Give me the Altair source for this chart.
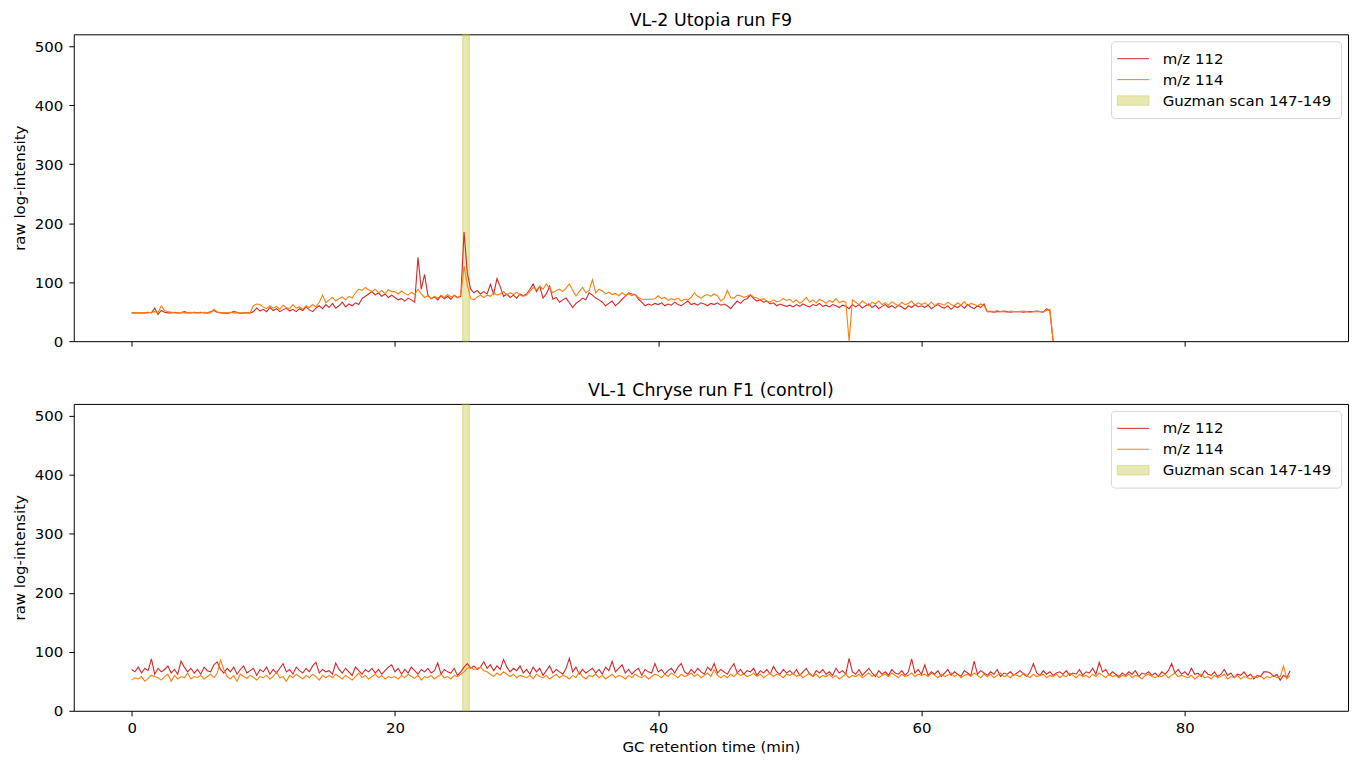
import altair as alt
import numpy as np
import pandas as pd

STEP_MIN = 0.25  # sampling interval of the traces (min)

SERIES = ["m/z 112", "m/z 114", "Guzman scan 147-149"]
COLORS = ["#d62728", "#ff7f0e", "rgba(188,189,34,0.35)"]
BAND_EDGE = "rgba(188,189,34,0.45)"

# VL-2 Utopia, run F9: 0 - 70 min
UTOPIA_112 = [
    48, 48, 48, 48, 48, 49, 48, 56, 45, 52, 49, 48, 48, 49, 48, 48, 50, 48, 48, 49,
    48, 49, 48, 48, 50, 52, 49, 48, 48, 47, 48, 50, 49, 47, 48, 48, 48, 50, 56, 51,
    54, 50, 57, 52, 55, 50, 53, 56, 51, 54, 50, 55, 52, 58, 53, 50, 56, 60, 55, 62,
    57, 64, 56, 60, 66, 58, 63, 60, 65, 62, 72, 76, 80, 84, 78, 82, 76, 80, 74, 78,
    74, 70, 72, 68, 73, 70, 66, 142, 88, 113, 78, 72, 75, 70, 77, 72, 76, 71, 78, 74,
    76, 185, 115, 88, 82, 86, 80, 84, 80, 96, 80, 106, 92, 76, 80, 74, 78, 73, 80, 77,
    80, 88, 97, 84, 93, 73, 80, 93, 71, 74, 66, 70, 73, 65, 57, 64, 68, 73, 70, 82,
    78, 73, 70, 66, 60, 64, 68, 60, 65, 71, 76, 82, 80, 79, 71, 66, 60, 63, 61, 64,
    62, 65, 60, 63, 61, 66, 62, 60, 64, 68, 62, 64, 61, 65, 63, 60, 64, 62, 65, 61,
    63, 60, 55, 62, 68, 64, 70, 72, 78, 72, 68, 70, 66, 68, 63, 65, 60, 63, 61, 59,
    61, 58, 62, 59, 63, 60, 58, 62, 60, 64, 59, 61, 58, 62, 60, 57, 61, 59, 55, 62,
    58, 62, 56, 60, 63, 57, 61, 55, 59, 62, 57, 60, 56, 61, 58, 54, 60, 57, 62, 58,
    60, 57, 61, 55, 59, 62, 58, 56, 60, 54, 59, 57, 61, 56, 62, 58, 55, 60, 57, 63,
    50, 50, 49, 50, 50, 51, 50, 49, 50, 50, 50, 49, 50, 50, 50, 51, 50, 49, 55, 51,
    0,
]
UTOPIA_114 = [
    48, 48, 48, 48, 48, 48, 49, 50, 48, 60, 52, 50, 49, 48, 48, 49, 48, 48, 49, 48,
    48, 48, 49, 48, 48, 54, 50, 48, 48, 48, 49, 48, 48, 48, 48, 48, 48, 60, 63, 62,
    58, 55, 60, 56, 59, 54, 61, 57, 55, 62, 56, 58, 54, 60, 57, 62, 58, 66, 78, 65,
    70, 74, 68, 72, 75, 70, 76, 73, 82, 88, 86, 91, 87, 84, 88, 82, 86, 80, 87, 84,
    84, 80, 85, 81, 78, 83, 79, 88, 80, 74, 77, 72, 76, 73, 78, 74, 79, 75, 77, 73,
    78, 127, 95, 72, 70, 75, 78, 74, 78, 76, 82, 78, 80, 84, 78, 82, 79, 83, 78, 76,
    78, 84, 91, 87, 93, 88, 97, 90, 82, 86, 88, 84, 90, 97, 86, 77, 84, 91, 82, 86,
    104, 82, 88, 85, 80, 83, 79, 81, 77, 82, 78, 80, 77, 79, 74, 71, 71, 71, 71, 72,
    77, 72, 74, 69, 72, 70, 73, 68, 71, 70, 74, 82, 76, 73, 77, 79, 76, 80, 77, 68,
    72, 86, 74, 73, 78, 77, 74, 76, 79, 75, 73, 70, 72, 68, 66, 70, 67, 68, 72, 69,
    71, 66, 70, 64, 68, 74, 66, 70, 65, 71, 68, 64, 69, 66, 72, 65, 68, 66, 0, 70,
    66, 62, 68, 64, 60, 66, 63, 68, 62, 65, 61, 67, 63, 60, 66, 62, 64, 68, 61, 65,
    62, 65, 61, 66, 60, 64, 63, 61, 66, 62, 60, 65, 61, 67, 60, 64, 62, 60, 63, 60,
    50, 51, 50, 52, 50, 50, 49, 51, 50, 50, 50, 51, 50, 49, 50, 50, 50, 50, 52, 54,
    0,
]

# VL-1 Chryse, run F1 (control): 0 - 88 min
CHRYSE_112 = [
    70, 66, 74, 64, 72, 68, 88, 62, 72, 66, 70, 76, 64, 70, 62, 84, 74, 66, 72, 64,
    70, 62, 74, 68, 66, 78, 83, 70, 64, 72, 66, 74, 62, 70, 76, 64, 68, 72, 60, 70,
    66, 74, 62, 70, 64, 72, 80, 66, 70, 62, 74, 68, 64, 72, 66, 76, 82, 64, 70, 66,
    68, 62, 81, 70, 64, 72, 66, 60, 74, 68, 62, 70, 66, 72, 64, 70, 62, 68, 74, 78,
    66, 72, 62, 70, 64, 74, 68, 62, 70, 66, 72, 64, 68, 81, 62, 70, 66, 64, 72, 60,
    66, 74, 80, 72, 76, 70, 74, 83, 72, 78, 68, 76, 70, 87, 74, 66, 72, 68, 76, 64,
    70, 62, 74, 66, 72, 60, 68, 76, 64, 70, 66, 62, 72, 89, 66, 74, 62, 70, 64, 68,
    72, 64, 70, 62, 74, 68, 84, 66, 72, 78, 64, 70, 62, 68, 72, 60, 70, 66, 64, 80,
    66, 70, 62, 68, 72, 64, 74, 80, 66, 62, 70, 64, 72, 66, 62, 74, 68, 80, 64, 70,
    66, 62, 72, 80, 64, 70, 62, 68, 66, 72, 60, 68, 64, 70, 62, 75, 66, 62, 70, 64,
    68, 62, 70, 60, 66, 72, 62, 58, 68, 64, 70, 62, 66, 60, 72, 64, 68, 62, 89, 66,
    62, 70, 60, 66, 72, 64, 58, 68, 62, 66, 60, 70, 64, 62, 68, 60, 66, 88, 64, 70,
    62, 78, 60, 66, 62, 68, 58, 64, 70, 60, 66, 62, 58, 68, 64, 60, 84, 62, 68, 64,
    60, 66, 62, 70, 58, 64, 62, 66, 60, 64, 68, 62, 58, 66, 80, 64, 60, 68, 62, 66,
    60, 64, 66, 62, 68, 60, 64, 62, 70, 60, 66, 64, 72, 62, 82, 66, 70, 60, 66, 62,
    58, 64, 60, 66, 62, 68, 58, 64, 62, 66, 60, 64, 58, 66, 62, 68, 80, 64, 70, 62,
    66, 60, 72, 62, 64, 58, 68, 62, 60, 66, 58, 62, 70, 60, 64, 56, 62, 60, 66, 58,
    62, 54, 60, 58, 66, 66, 64, 58, 62, 52, 60, 56, 68,
]
CHRYSE_114 = [
    52, 56, 54, 58, 50, 55, 60, 58, 56, 52, 58, 62, 50, 60, 54, 58, 56, 64, 54, 58,
    56, 60, 54, 58, 62, 56, 64, 86, 70, 58, 54, 60, 50, 62, 58, 55, 60, 57, 52, 58,
    56, 60, 54, 58, 66, 56, 58, 50, 60, 56, 62, 58, 54, 60, 56, 62, 58, 52, 60, 56,
    60, 56, 62, 58, 54, 60, 56, 52, 58, 64, 56, 60, 54, 58, 62, 56, 60, 54, 58, 56,
    58, 54, 60, 56, 62, 58, 55, 60, 52, 58, 56, 60, 54, 58, 62, 56, 58, 54, 60, 58,
    62, 66, 72, 74, 70, 72, 74, 68, 66, 62, 58, 64, 60, 66, 62, 58, 62, 56, 60, 58,
    56, 60, 54, 62, 58, 56, 60, 54, 58, 62, 56, 60, 58, 54, 60, 56, 66, 58, 54, 60,
    58, 62, 56, 60, 54, 58, 62, 56, 60, 58, 54, 60, 56, 62, 58, 56, 60, 54, 58, 62,
    60, 56, 62, 58, 64, 60, 56, 62, 58, 60, 64, 58, 62, 56, 60, 64, 58, 70, 60, 56,
    60, 56, 62, 58, 64, 60, 62, 58, 60, 64, 58, 62, 56, 60, 64, 58, 62, 60, 56, 62,
    60, 64, 58, 62, 56, 60, 64, 58, 62, 56, 60, 58, 62, 56, 60, 54, 58, 62, 56, 60,
    58, 62, 56, 60, 64, 58, 62, 56, 60, 62, 58, 64, 60, 56, 62, 58, 60, 64, 58, 62,
    60, 62, 58, 64, 60, 56, 62, 58, 60, 64, 58, 62, 56, 60, 62, 58, 64, 60, 56, 62,
    58, 62, 56, 60, 64, 58, 60, 56, 62, 60, 58, 64, 60, 56, 62, 58, 60, 62, 56, 60,
    58, 62, 56, 60, 58, 64, 60, 56, 62, 58, 60, 56, 62, 58, 64, 60, 56, 62, 58, 60,
    56, 60, 58, 62, 56, 60, 58, 54, 60, 62, 58, 56, 60, 58, 62, 56, 60, 64, 58, 60,
    58, 56, 60, 54, 58, 62, 56, 58, 54, 60, 56, 58, 62, 54, 58, 56, 60, 54, 58, 56,
    54, 58, 56, 60, 54, 58, 56, 60, 56, 58, 76, 54, 60,
]

GUZMAN_START = 25.15
GUZMAN_END = 25.65

X_DOMAIN = [-4.4, 92.4]
Y_DOMAIN = [0, 520]
X_TICKS = [0, 20, 40, 60, 80]
Y_TICKS = [0, 100, 200, 300, 400, 500]

PANEL_W = 1279
PANEL_H = 308

# legend glyphs: a 32px line for the traces, a 32x10 box for the band
LINE_PATH = "M-1.4,0L2.6,0"
BOX_PATH = "M-1.4,-0.6L2.6,-0.6L2.6,0.6L-1.4,0.6Z"
SYMBOL_EXPR = f"datum.value === '{SERIES[2]}' ? '{BOX_PATH}' : '{LINE_PATH}'"


def _traces(v112, v114):
    assert len(v112) == len(v114)
    t = np.arange(len(v112)) * STEP_MIN
    return pd.concat(
        [
            pd.DataFrame({"time": t, "intensity": v112, "series": SERIES[0]}),
            pd.DataFrame({"time": t, "intensity": v114, "series": SERIES[1]}),
        ],
        ignore_index=True,
    )


def _color():
    return alt.Color(
        "series:N",
        scale=alt.Scale(domain=SERIES, range=COLORS),
        legend=alt.Legend(
            title=None,
            orient="top-right",
            offset=7,
            fillColor="white",
            strokeColor="#d6d6d6",
            cornerRadius=4,
            padding=9,
            labelFontSize=15,
            labelLimit=300,
            labelOffset=26,
            symbolSize=256,
            symbolStrokeWidth=1,
            symbolType=alt.ExprRef(expr=SYMBOL_EXPR),
            rowPadding=4,
        ),
    )


def panel(title, v112, v114, bottom):
    x_axis = alt.Axis(
        values=X_TICKS,
        labels=bottom,
        title="GC retention time (min)" if bottom else None,
        labelPadding=5,
        titlePadding=4,
    )
    x_scale = alt.Scale(domain=X_DOMAIN, nice=False, zero=False)
    y = alt.Y(
        "intensity:Q",
        scale=alt.Scale(domain=Y_DOMAIN, nice=False),
        axis=alt.Axis(values=Y_TICKS, title="raw log-intensity", labelPadding=6, titlePadding=7),
    )

    band_df = pd.DataFrame({"time": [GUZMAN_START], "time_end": [GUZMAN_END], "series": [SERIES[2]]})
    band = alt.Chart(band_df).mark_rect().encode(
        x=alt.X("time:Q", scale=x_scale, axis=x_axis),
        x2="time_end:Q",
        color=_color(),
    )
    band_edge = alt.Chart(band_df).mark_rect(filled=False, stroke=BAND_EDGE, strokeWidth=1).encode(
        x=alt.X("time:Q", scale=x_scale, axis=x_axis),
        x2="time_end:Q",
    )
    lines = alt.Chart(_traces(v112, v114)).mark_line(strokeWidth=1.1).encode(
        x=alt.X("time:Q", scale=x_scale, axis=x_axis),
        y=y,
        color=_color(),
    )
    return alt.layer(band, band_edge, lines).properties(width=PANEL_W, height=PANEL_H, title=title)


top = panel("VL-2 Utopia run F9", UTOPIA_112, UTOPIA_114, bottom=False)
bottom = panel("VL-1 Chryse run F1 (control)", CHRYSE_112, CHRYSE_114, bottom=True)

chart = (
    alt.vconcat(top, bottom, spacing=31)
    .resolve_scale(color="independent")
    .properties(padding={"left": 3, "top": 2, "right": 5, "bottom": 5})
    .configure(font="DejaVu Sans")
    .configure_view(stroke="black", strokeWidth=1)
    .configure_axis(
        grid=False,
        domain=False,
        tickColor="black",
        tickSize=5,
        labelFontSize=15,
        labelColor="black",
        titleFontSize=15,
        titleColor="black",
        titleFontWeight="normal",
    )
    .configure_legend(labelColor="black", labelFont="DejaVu Sans")
    .configure_title(fontSize=17.5, fontWeight="normal", color="black", offset=4)
)

chart.save("out.html", embed_options={"renderer": "svg", "actions": False})
